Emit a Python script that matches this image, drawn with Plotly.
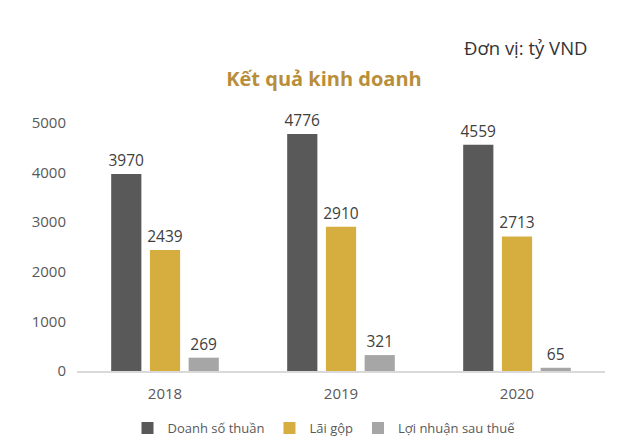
import plotly.graph_objects as go

# datos del gráfico
nam = ["2018", "2019", "2020"]
doanh_so_thuan = [3970, 4776, 4559]
lai_gop = [2439, 2910, 2713]
loi_nhuan_sau_thue = [269, 321, 65]

series = [
    ("Doanh số thuần", doanh_so_thuan, "#595959"),
    ("Lãi gộp", lai_gop, "#D5AE3F"),
    ("Lợi nhuận sau thuế", loi_nhuan_sau_thue, "#A6A6A6"),
]

# la página deja 8px de margen, la figura se reduce para compensarlo
W, H = 632, 435
izq, der, arriba, abajo = 69, 35, 115, 72
alto_plot = H - arriba - abajo
ancho_plot = W - izq - der

fig = go.Figure()
for nombre, valores, color in series:
    fig.add_trace(go.Bar(
        x=nam, y=valores, name=nombre, marker=dict(color=color, line_width=0),
        text=valores, textposition="outside", cliponaxis=False,
        constraintext="none",
        textfont=dict(size=15.5, color="#404040"),
    ))

fig.update_layout(
    width=W, height=H,
    paper_bgcolor="white", plot_bgcolor="white",
    font=dict(family="Open Sans", color="#595959"),
    margin=dict(l=izq, r=der, t=arriba, b=abajo, autoexpand=False),
    barmode="group", bargap=0.34, bargroupgap=0.22,
    showlegend=True,
    legend=dict(orientation="h", x=0.5, xanchor="center", xref="container",
                y=15 / H, yanchor="middle", yref="container",
                font=dict(size=13, color="#595959"), traceorder="normal",
                itemwidth=30),
    title=dict(text="<b>Kết quả kinh doanh</b>", x=0.5, xref="container",
               y=1 - 71 / H, yref="container", yanchor="middle",
               font=dict(size=20, color="#B88E3A")),
    annotations=[
        dict(text="Đơn vị: tỷ VND", x=(582 - izq) / ancho_plot, xref="paper",
             y=1 + (arriba - 39) / alto_plot, yref="paper", showarrow=False,
             font=dict(size=18.5, color="#333333"), xanchor="right", yanchor="middle"),
    ],
)

fig.update_xaxes(showline=True, linecolor="#D9D9D9", linewidth=1.5, ticks="",
                 automargin=False, ticklabelstandoff=8,
                 tickfont=dict(size=15, color="#595959"))
fig.update_yaxes(range=[0, 5000], dtick=1000, showgrid=False, zeroline=False,
                 showline=False, automargin=False, ticklabelstandoff=10,
                 tickfont=dict(size=15, color="#595959"))

fig.write_html("out.html")
